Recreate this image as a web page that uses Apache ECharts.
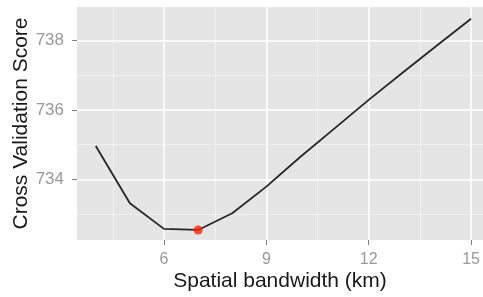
<!DOCTYPE html>
<html>
<head>
<meta charset="utf-8">
<script src="https://cdn.jsdelivr.net/npm/echarts@6/dist/echarts.min.js"></script>
<style>
  html, body { margin: 0; padding: 0; background: #fff; }
  #chart { width: 483px; height: 297px; }
</style>
</head>
<body>
<div id="chart"></div>
<script>
   // bandwidth (km) vs CV score
   var bandwidth = [4, 5, 6, 7, 8, 9, 10, 11, 12, 13, 14, 15];
   var cvScore = [734.96, 733.31, 732.57, 732.54, 733.02, 733.79, 734.65, 735.47, 736.29, 737.08, 737.86, 738.63];
   var bestPoint = [7, 732.54];
   var xTicks = [6, 9, 12, 15];
   var xMinor = [4.5, 7.5, 10.5, 13.5];
   var yTicks = [734, 736, 738];
   var yMinor = [733, 735, 737];

   var font = 'Liberation Sans';
   var xMin = 3.45, xMax = 15.35, yMin = 732.25, yMax = 738.97;

   var lineData = bandwidth.map(function (b, i) { return [b, cvScore[i]]; });

   function hiddenAxis(vals, min, max) {
       return {
           type: 'value', min: min, max: max,
           axisLine: { show: false },
           axisTick: { show: false, customValues: vals },
           axisLabel: { show: false, customValues: vals },
           splitLine: { show: true, lineStyle: { color: '#F2F2F2', width: 0.8 } }
       };
   }

   var myChart = echarts.init(document.getElementById('chart'));

   var option = {
       animation: false,
       backgroundColor: '#fff',
       grid: {
           left: 77, top: 7, right: 0, bottom: 57,
           outerBoundsMode: 'none', containLabel: false,
           show: true, backgroundColor: '#E5E5E5', borderWidth: 0
       },
       xAxis: [{
           type: 'value', min: xMin, max: xMax,
           name: 'Spatial bandwidth (km)', nameLocation: 'middle', nameGap: 31,
           nameMoveOverlap: false,
           nameTextStyle: { fontFamily: font, fontSize: 21, color: '#1a1a1a' },
           axisLine: { show: false },
           axisTick: { show: true, length: 5, customValues: xTicks, lineStyle: { color: '#7f7f7f', width: 1 } },
           axisLabel: { customValues: xTicks, margin: 12, fontFamily: font, fontSize: 16, color: '#999' },
           splitLine: { show: true, lineStyle: { color: '#fff', width: 1.6 } },
           z: 2
       }, hiddenAxis(xMinor, xMin, xMax)],
       yAxis: [{
           type: 'value', min: yMin, max: yMax,
           name: 'Cross Validation Score', nameLocation: 'middle', nameGap: 45,
           nameMoveOverlap: false,
           nameTextStyle: { fontFamily: font, fontSize: 21, color: '#1a1a1a' },
           axisLine: { show: false },
           axisTick: { show: true, length: 5, customValues: yTicks, lineStyle: { color: '#7f7f7f', width: 1 } },
           axisLabel: { customValues: yTicks, margin: 13, fontFamily: font, fontSize: 17, color: '#999' },
           splitLine: { show: true, lineStyle: { color: '#fff', width: 1.6 } },
           z: 2
       }, hiddenAxis(yMinor, yMin, yMax)],
       series: [{
           type: 'line',
           data: lineData,
           symbol: 'none',
           lineStyle: { color: '#262626', width: 1.8 },
           z: 3
       }, {
           type: 'scatter',
           data: [bestPoint],
           symbolSize: 9,
           itemStyle: { color: '#FF2200' },
           z: 4
       }]
   };
   myChart.setOption(option);
</script>
</body>
</html>
